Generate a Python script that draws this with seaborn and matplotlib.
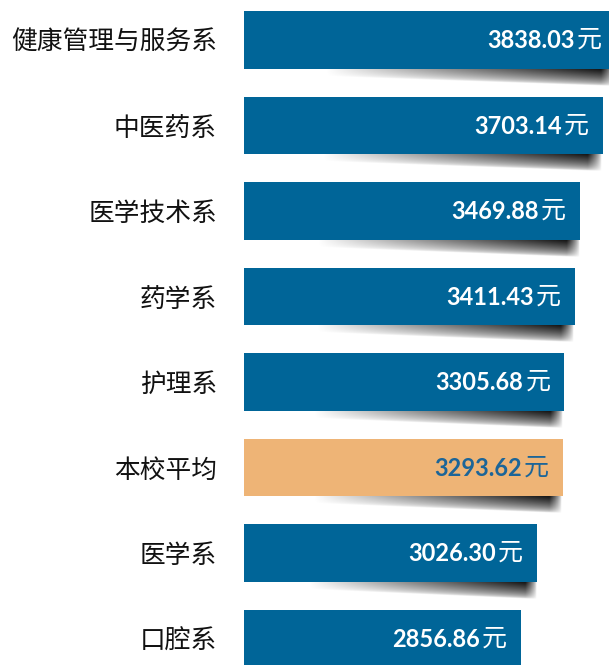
import numpy as np
import pandas as pd
import matplotlib
matplotlib.use("Agg")
import matplotlib.pyplot as plt
import seaborn as sns
from matplotlib.transforms import offset_copy

categories = ["健康管理与服务系", "中医药系", "医学技术系", "药学系", "护理系", "本校平均", "医学系", "口腔系"]
values = [3838.03, 3703.14, 3469.88, 3411.43, 3305.68, 3293.62, 3026.30, 2856.86]
value_labels = ["3838.03", "3703.14", "3469.88", "3411.43", "3305.68", "3293.62", "3026.30", "2856.86"]
highlight = "本校平均"

BLUE = "#006598"
ORANGE = "#EEB476"
TXT_BLUE = "#1C6598"

sns.set_theme(style="white")
plt.rcParams['font.family'] = ['Noto Sans CJK SC', 'DejaVu Sans']

W, H, DPI = 609, 665, 100
fig = plt.figure(figsize=(W / DPI, H / DPI), dpi=DPI)
ax = fig.add_axes([244 / W, 0, 365 / W, 1])

df = pd.DataFrame({"cat": categories, "val": values})
colors = [ORANGE if c == highlight else BLUE for c in categories]
sns.barplot(data=df, y="cat", x="val", hue="cat", palette=colors, legend=False,
            orient="h", width=0.667, ax=ax, zorder=3, saturation=1, linewidth=0)

xmax = 365 / 0.0969
ax.set_xlim(0, xmax)
ax.set_ylim(7.31, -0.468)

# soft curved drop shadows beneath the right part of each bar
px_per_unit_y = 85.5
half = 0.667 / 2
for i, v in enumerate(values):
    x0 = v * 0.22
    x1 = v * 0.997
    depth = 17 / px_per_unit_y
    nx, ny = 400, 80
    xs = np.linspace(0, 1, nx)
    ys = np.linspace(0, 1, ny)
    X, Y = np.meshgrid(xs, ys)
    thick = 0.45 + 0.55 * X
    inside = np.clip(1 - Y / thick, 0, 1) ** 0.55
    horiz = X ** 0.9
    edge = np.clip((1 - X) / 0.05, 0, 1) ** 0.7
    alpha = np.clip(1.0 * inside * horiz * edge, 0, 1)
    img = np.zeros((ny, nx, 4))
    img[..., 3] = alpha
    yb = i + half
    ax.imshow(img, extent=[x0, x1, yb + depth, yb - 0.01], aspect="auto",
              origin="upper", zorder=2, interpolation="bilinear")

ax.set_xlim(0, xmax)
ax.set_ylim(7.31, -0.468)

for i, (v, lab, c) in enumerate(zip(values, value_labels, categories)):
    col = TXT_BLUE if c == highlight else "white"
    t1 = offset_copy(ax.transData, fig=fig, x=-14, y=0, units="dots")
    ax.text(v, i, "元", transform=t1, ha="right", va="center", fontsize=18,
            color=col, family=['Noto Sans CJK SC'], fontweight="light", zorder=5)
    t2 = offset_copy(ax.transData, fig=fig, x=-41, y=0, units="dots")
    ax.text(v, i + 0.01, lab, transform=t2, ha="right", va="center", fontsize=17,
            color=col, family=['Lato', 'DejaVu Sans'], fontweight="bold", zorder=5)

ax.set_xlabel("")
ax.set_ylabel("")
ax.set_xticks([])
ax.tick_params(axis="y", length=0, pad=19.5, labelsize=18.5)
for lbl in ax.get_yticklabels():
    lbl.set_fontweight("light")
    lbl.set_color("#111111")
for s in ax.spines.values():
    s.set_visible(False)

fig.savefig("out.png", dpi=DPI)
